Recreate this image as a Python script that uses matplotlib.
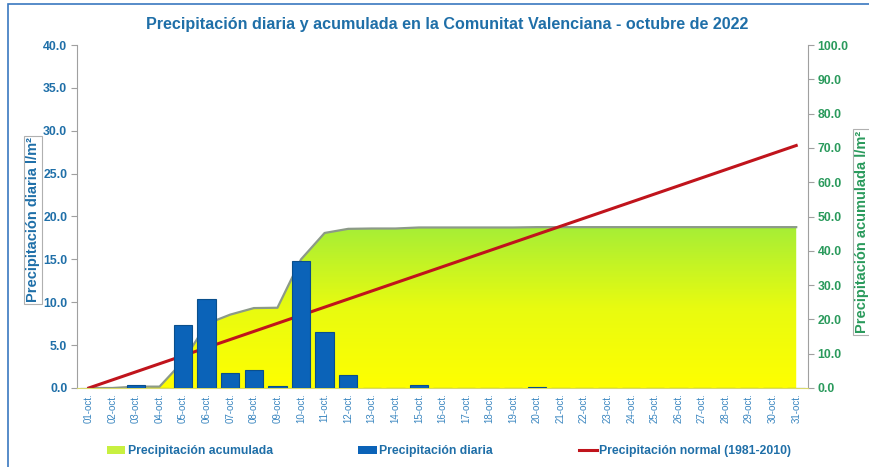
import matplotlib.pyplot as plt
import numpy as np
from matplotlib.colors import LinearSegmentedColormap
from matplotlib.patches import Rectangle, Patch
from matplotlib.lines import Line2D

plt.rcParams['font.family'] = ['Liberation Sans', 'DejaVu Sans']

# datos
dias = ['%02d-oct.' % d for d in range(1, 32)]
diaria = [0.0, 0.0, 0.4, 0.0, 7.4, 10.4, 1.8, 2.1, 0.2, 14.8, 6.5, 1.5, 0.0, 0.0, 0.3, 0.0,
          0.0, 0.0, 0.0, 0.1, 0.0, 0.0, 0.0, 0.0, 0.0, 0.0, 0.0, 0.0, 0.0, 0.0, 0.0]
acumulada = [0.0, 0.0, 0.4, 0.4, 7.8, 18.7, 21.4, 23.3, 23.4, 37.5, 45.2, 46.4, 46.5, 46.5, 46.8, 46.8,
             46.8, 46.8, 46.8, 46.9, 46.9, 46.9, 46.9, 46.9, 46.9, 46.9, 46.9, 46.9, 46.9, 46.9, 46.9]
normal_dias = [0, 30]
normal = [0.0, 70.7]

azul = '#1f6fa8'
verde = '#2a9a5c'

fig = plt.figure(figsize=(8.7, 4.67), dpi=100)
ax = fig.add_axes([77/870, 1-388/467, 731/870, 343/467])
ax.set_zorder(2)
ax.patch.set_visible(False)
ax2 = ax.twinx()
ax2.set_zorder(1)

x = np.arange(len(dias))

# area acumulada con degradado
cmap = LinearSegmentedColormap.from_list('yv', ['#ffff00', '#e8fb10', '#a6ee36'])
grad = np.linspace(0, 1, 256).reshape(-1, 1)
top = max(acumulada)
img = ax2.imshow(grad, cmap=cmap, origin='lower', aspect='auto',
                 extent=[x[0], x[-1], 0, top], zorder=1)
poly = ax2.fill_between(x, acumulada, 0, facecolor='none', edgecolor='none')
img.set_clip_path(poly.get_paths()[0], transform=ax2.transData)
ax2.plot(x, acumulada, color='#8c9a88', lw=1.6, zorder=2)
ax2.plot(normal_dias, normal, color='#c0141c', lw=2.2, zorder=3)

ax.bar(x, diaria, width=0.78, color='#0b63b8', edgecolor='#0a4f8c', lw=0.8, zorder=3)

ax.set_xlim(-0.5, len(dias) - 0.5)
ax.set_ylim(0, 40)
ax2.set_ylim(0, 100)
ax.set_yticks(np.arange(0, 40.1, 5))
ax.set_yticklabels(['%.1f' % v for v in np.arange(0, 40.1, 5)])
ax2.set_yticks(np.arange(0, 100.1, 10))
ax2.set_yticklabels(['%.1f' % v for v in np.arange(0, 100.1, 10)])
ax.set_xticks(x)
ax.set_xticklabels(dias, rotation=90, fontsize=7, color='#3a86c0')

for a in (ax, ax2):
    for s in a.spines.values():
        s.set_visible(False)
ax.spines['left'].set_visible(True)
ax.spines['left'].set_color('#a0a0a0')
ax2.spines['right'].set_visible(True)
ax2.spines['right'].set_color('#a0a0a0')
ax.spines['bottom'].set_visible(True)
ax.spines['bottom'].set_color('#d8d86a')

ax.tick_params(axis='y', colors='#a0a0a0', labelcolor=azul, labelsize=8.8, length=4, pad=3)
ax2.tick_params(axis='y', colors='#a0a0a0', labelcolor=verde, labelsize=8.8, length=4, pad=3)
ax.tick_params(axis='x', length=0, pad=4)
for t in ax.get_yticklabels() + ax2.get_yticklabels():
    t.set_fontweight('bold')

fig.text(447/870, 1-24/467, 'Precipitación diaria y acumulada en la Comunitat Valenciana - octubre de 2022',
         ha='center', va='center', fontsize=11.6, fontweight='bold', color=azul)
fig.text(33/870, 1-220/467, 'Precipitación diaria l/m²', rotation=90, ha='center', va='center',
         fontsize=10.5, fontweight='bold', color=azul,
         bbox=dict(facecolor='none', edgecolor='#b0b0b0', lw=0.8, pad=1.2))
fig.text(862/870, 1-232/467, 'Precipitación acumulada l/m²', rotation=90, ha='center', va='center',
         fontsize=10.5, fontweight='bold', color=verde,
         bbox=dict(facecolor='none', edgecolor='#b0b0b0', lw=0.8, pad=1.2))

handles = [Patch(facecolor='#c8f040', edgecolor='none'),
           Patch(facecolor='#0b63b8', edgecolor='none'),
           Line2D([], [], color='#c0141c', lw=2.2)]
labels = ['Precipitación acumulada', 'Precipitación diaria', 'Precipitación normal (1981-2010)']
leg = fig.legend(handles, labels, loc='center left', bbox_to_anchor=(96/870, 1-451/467), ncol=3,
                 frameon=False, fontsize=8.8, handlelength=1.5, handleheight=0.6,
                 handletextpad=0.2, columnspacing=7.0)
for t in leg.get_texts():
    t.set_color(azul)
    t.set_fontweight('bold')

# marco azul
fig.patches.append(Rectangle((8/870, -0.05), 1.0, 1-4/467 + 0.05, transform=fig.transFigure,
                             fill=False, edgecolor='#3a78c0', lw=1.2))

fig.savefig('out.png', dpi=100)
